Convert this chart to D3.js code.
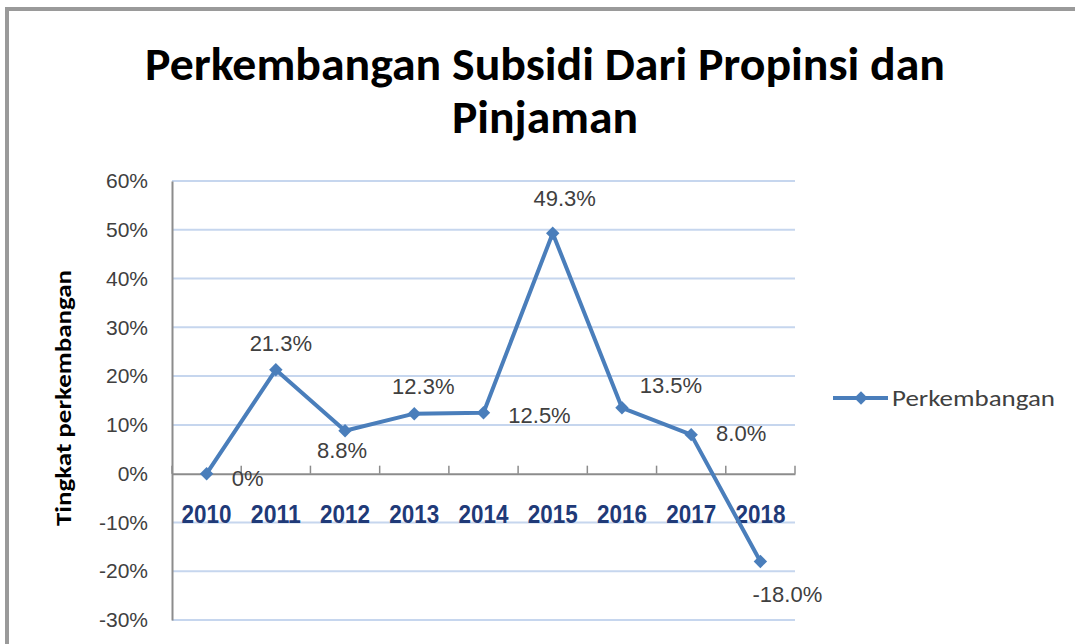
<!DOCTYPE html>
<html lang="id">
<head>
  <meta charset="UTF-8">
  <title>Perkembangan Subsidi</title>
  <script src="https://cdn.jsdelivr.net/npm/d3@7"></script>
  <style>
    body { margin: 0; background: #fff; }
    svg { display: block; }
  </style>
</head>
<body>
<script>
// data
let years = ['2010', '2011', '2012', '2013', '2014', '2015', '2016', '2017', '2018'];
let growth = [0, 21.3, 8.8, 12.3, 12.5, 49.3, 13.5, 8.0, -18.0];
let growthLabels = ['0%', '21.3%', '8.8%', '12.3%', '12.5%', '49.3%', '13.5%', '8.0%', '-18.0%'];
let yTicks = [-30, -20, -10, 0, 10, 20, 30, 40, 50, 60];
let seriesName = 'Perkembangan';

// label placement (dx, dy from the point)
let labelOffsets = [[41, 12], [5, -19], [-3, 27], [9, -20], [56, 10], [12, -27], [49, -15], [50, 6], [27, 41]];

let width = 1075;
let height = 644;
let plot = { left: 172, right: 795, top: 181, bottom: 620 };
let lineColor = '#4a7ebb';
let textColor = '#404040';

let svg = d3.select('body')
  .append('svg')
  .attr('width', width)
  .attr('height', height);

// chart frame
svg.append('path')
  .attr('d', 'M7,' + height + ' V9 H' + width)
  .attr('fill', 'none')
  .attr('stroke', '#9a9a9a')
  .attr('stroke-width', 4);

// title
let title = svg.append('g')
  .attr('font-family', 'Carlito, "Open Sans", sans-serif')
  .attr('font-weight', 600)
  .attr('font-size', 46)
  .attr('fill', '#000')
  .attr('text-anchor', 'middle');
title.append('text')
  .attr('x', 545).attr('y', 80)
  .attr('textLength', 800).attr('lengthAdjust', 'spacingAndGlyphs')
  .text('Perkembangan Subsidi Dari Propinsi dan');
title.append('text')
  .attr('x', 545).attr('y', 133)
  .attr('textLength', 186).attr('lengthAdjust', 'spacingAndGlyphs')
  .text('Pinjaman');

let x = d3.scaleBand()
  .domain(years)
  .range([plot.left, plot.right]);

let y = d3.scaleLinear()
  .domain([-30, 60])
  .range([plot.bottom, plot.top]);

// gridlines
svg.append('g')
  .selectAll('line')
  .data(yTicks.filter(d => d !== 0))
  .enter()
  .append('line')
  .attr('x1', plot.left)
  .attr('x2', plot.right)
  .attr('y1', d => y(d))
  .attr('y2', d => y(d))
  .attr('stroke', '#c6d6ee')
  .attr('stroke-width', 2);

// y axis
let yAxis = d3.axisLeft(y)
  .tickValues(yTicks)
  .tickSize(0)
  .tickPadding(24)
  .tickFormat(d => d + '%');

let yG = svg.append('g')
  .attr('transform', 'translate(' + plot.left + ',0)')
  .call(yAxis);
yG.select('.domain').attr('stroke', '#8c8c8c').attr('stroke-width', 2);
yG.selectAll('text')
  .attr('font-family', '"Liberation Sans", Arial, sans-serif')
  .attr('font-size', 21)
  .attr('fill', textColor);

// x axis along zero
let xAxis = d3.axisBottom(x).tickSize(0).tickPadding(32);
let xG = svg.append('g')
  .attr('transform', 'translate(0,' + y(0) + ')')
  .call(xAxis);
xG.select('.domain').attr('stroke', '#8c8c8c').attr('stroke-width', 2);
xG.selectAll('text')
  .attr('font-family', '"Liberation Sans Narrow", "Arial Narrow", sans-serif')
  .attr('font-weight', 'bold')
  .attr('font-size', 25)
  .attr('textLength', 50)
  .attr('lengthAdjust', 'spacingAndGlyphs')
  .attr('fill', '#1f3a78');

// category boundary ticks pointing up
xG.selectAll('line.sep')
  .data(d3.range(years.length + 1))
  .enter()
  .append('line')
  .attr('class', 'sep')
  .attr('x1', i => plot.left + i * x.step())
  .attr('x2', i => plot.left + i * x.step())
  .attr('y1', 0)
  .attr('y2', -8)
  .attr('stroke', '#8c8c8c')
  .attr('stroke-width', 1.5);

// y axis title
svg.append('text')
  .attr('transform', 'translate(71,398) rotate(-90)')
  .attr('text-anchor', 'middle')
  .attr('font-family', 'Carlito, "Open Sans", sans-serif')
  .attr('font-weight', 'bold')
  .attr('font-size', 22)
  .attr('textLength', 256)
  .attr('lengthAdjust', 'spacingAndGlyphs')
  .attr('fill', '#000')
  .text('Tingkat perkembangan');

// line
let points = years.map((yr, i) => ({ year: yr, value: growth[i], label: growthLabels[i], off: labelOffsets[i] }));
let line = d3.line()
  .x(d => x(d.year) + x.bandwidth() / 2)
  .y(d => y(d.value));

svg.append('path')
  .datum(points)
  .attr('d', line)
  .attr('fill', 'none')
  .attr('stroke', lineColor)
  .attr('stroke-width', 4)
  .attr('stroke-linejoin', 'round');

let diamond = d3.symbol().type(d3.symbolSquare).size(90);
svg.append('g')
  .selectAll('path')
  .data(points)
  .enter()
  .append('path')
  .attr('d', diamond)
  .attr('transform', d => 'translate(' + (x(d.year) + x.bandwidth() / 2) + ',' + y(d.value) + ') rotate(45)')
  .attr('fill', lineColor);

// data labels
svg.append('g')
  .selectAll('text')
  .data(points)
  .enter()
  .append('text')
  .attr('x', d => x(d.year) + x.bandwidth() / 2 + d.off[0])
  .attr('y', d => y(d.value) + d.off[1])
  .attr('text-anchor', 'middle')
  .attr('font-family', '"Liberation Sans", Arial, sans-serif')
  .attr('font-size', 22)
  .attr('fill', textColor)
  .text(d => d.label);

// legend
let legend = svg.append('g').attr('transform', 'translate(833,398)');
legend.append('line')
  .attr('x1', 0).attr('x2', 55)
  .attr('stroke', lineColor).attr('stroke-width', 4);
legend.append('path')
  .attr('d', diamond)
  .attr('transform', 'translate(28,0) rotate(45)')
  .attr('fill', lineColor);
legend.append('text')
  .attr('x', 59).attr('y', 8)
  .attr('font-family', 'Carlito, "Open Sans", sans-serif')
  .attr('font-size', 22)
  .attr('textLength', 163)
  .attr('lengthAdjust', 'spacingAndGlyphs')
  .attr('fill', textColor)
  .text(seriesName);
</script>
</body>
</html>
